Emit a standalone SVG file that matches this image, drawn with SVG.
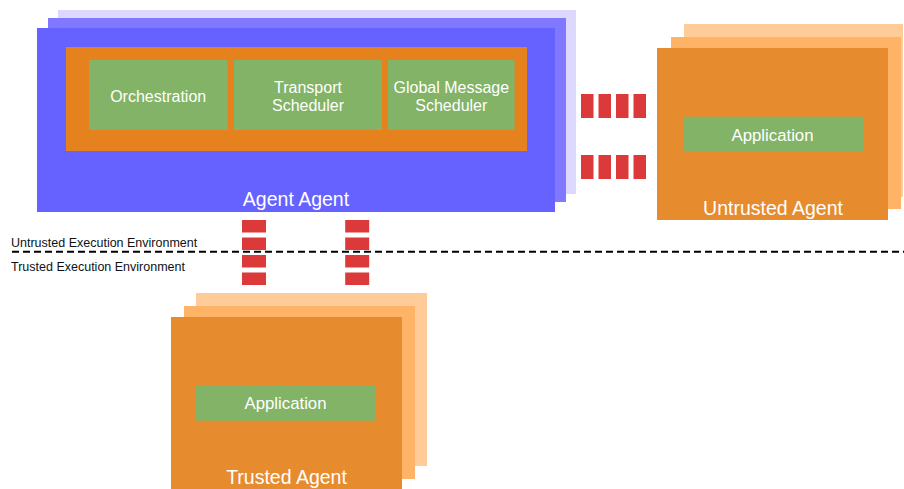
<svg xmlns="http://www.w3.org/2000/svg" width="904" height="489" viewBox="0 0 904 489">
  <style>
    .lav-back { fill: #DCD8FE; }
    .lav-mid { fill: #8078FF; }
    .lav-front { fill: #6562FF; }
    .org-back { fill: #FFCC99; }
    .org-mid { fill: #FFB366; }
    .org-front { fill: #E78B2F; }
    .org-inner { fill: #E6821E; }
    .comp { fill: #82B366; }
    .t { font-family: "Liberation Sans", Arial, Helvetica, sans-serif; fill: #FFFFFF; text-anchor: middle; }
    .t16 { font-size: 16px; }
    .t17 { font-size: 16.8px; }
    .t19 { font-size: 19.5px; }
    .env { font-family: "Liberation Sans", Arial, Helvetica, sans-serif; font-size: 12.5px; fill: #111111; }
    .link { stroke: #DC3A3A; stroke-width: 24; stroke-dasharray: 12.5 5; fill: none; }
    .boundary { stroke: #000000; stroke-width: 2; stroke-dasharray: 7 4; fill: none; }
  </style>

  <!-- Agent Agent: stacked instances with inner scheduler components -->
  <g id="agent-agent">
    <rect class="lav-back" x="58" y="10" width="518" height="184"/>
    <rect class="lav-mid" x="48" y="18" width="518" height="184"/>
    <rect class="lav-front" x="37" y="28" width="518" height="184"/>
    <rect class="org-inner" x="66" y="47" width="461" height="104"/>
    <g id="orchestration">
      <rect class="comp" x="89" y="60" width="138.5" height="70"/>
      <text class="t t16" x="158.2" y="102.3">Orchestration</text>
    </g>
    <g id="transport-scheduler">
      <rect class="comp" x="234" y="60" width="148" height="70"/>
      <text class="t t16" x="308" y="93.3">Transport</text>
      <text class="t t16" x="308" y="111.3">Scheduler</text>
    </g>
    <g id="global-message-scheduler">
      <rect class="comp" x="388" y="60" width="126.6" height="70"/>
      <text class="t t16" x="451.3" y="93.3">Global Message</text>
      <text class="t t16" x="451.3" y="111.3">Scheduler</text>
    </g>
    <text class="t t19" x="296" y="206">Agent Agent</text>
  </g>

  <!-- Untrusted Agent -->
  <g id="untrusted-agent">
    <rect class="org-back" x="684" y="24" width="219" height="173"/>
    <rect class="org-mid" x="671" y="37" width="230" height="172"/>
    <rect class="org-front" x="657" y="48" width="231" height="172"/>
    <g id="untrusted-application">
      <rect class="comp" x="683.5" y="116.7" width="179.5" height="35.3"/>
      <text class="t t17" x="772.5" y="140.5">Application</text>
    </g>
    <text class="t t19" x="773" y="215">Untrusted Agent</text>
  </g>

  <!-- Trusted Agent -->
  <g id="trusted-agent">
    <rect class="org-back" x="196" y="293" width="231" height="173"/>
    <rect class="org-mid" x="184" y="306" width="231" height="173"/>
    <rect class="org-front" x="171" y="317" width="231" height="172"/>
    <g id="trusted-application">
      <rect class="comp" x="196" y="386" width="179.7" height="34.7"/>
      <text class="t t17" x="285.5" y="409">Application</text>
    </g>
    <text class="t t19" x="286.5" y="483.5">Trusted Agent</text>
  </g>

  <!-- Execution environment boundary -->
  <g id="environment-boundary">
    <line class="boundary" x1="12" y1="251.7" x2="904" y2="251.7"/>
    <text class="env" x="11" y="247.2">Untrusted Execution Environment</text>
    <text class="env" x="11" y="271.2">Trusted Execution Environment</text>
  </g>

  <!-- Channels between agents -->
  <g id="connectors">
    <line class="link" x1="581" y1="106" x2="646" y2="106"/>
    <line class="link" x1="581" y1="167" x2="646" y2="167"/>
    <line class="link" x1="254" y1="220" x2="254" y2="285"/>
    <line class="link" x1="357.2" y1="220" x2="357.2" y2="285"/>
  </g>
</svg>
